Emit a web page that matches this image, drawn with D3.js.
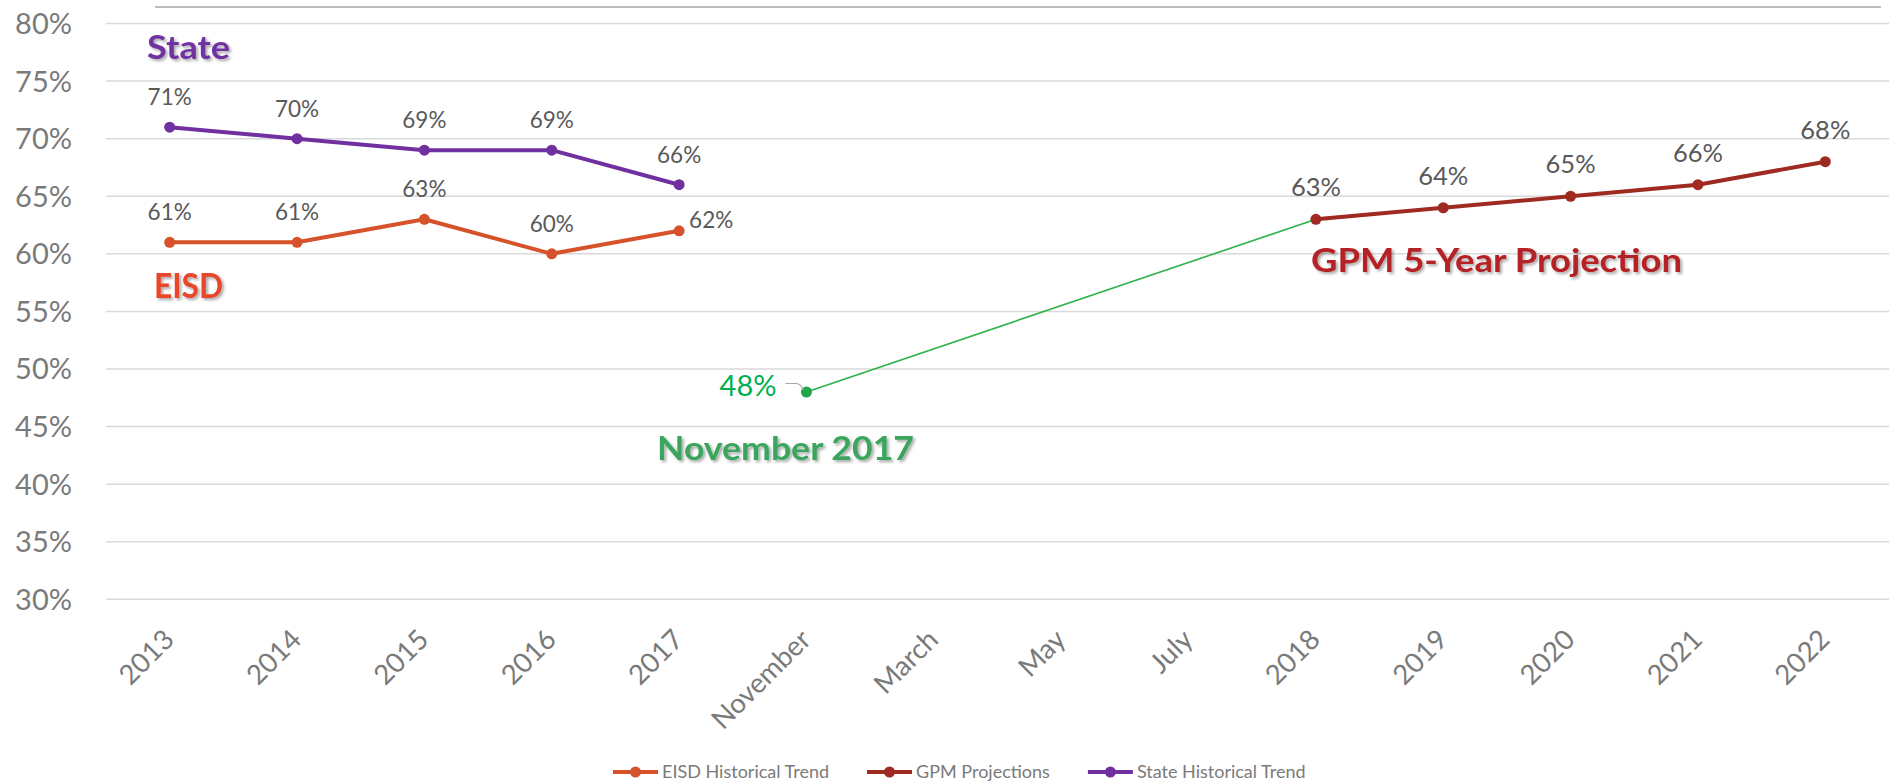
<!DOCTYPE html>
<html>
<head>
<meta charset="utf-8">
<script src="https://cdn.jsdelivr.net/npm/d3@7"></script>
<style>
  body { margin: 0; background: #fff; }
  svg { display: block; font-family: Lato, "Open Sans", sans-serif; }
</style>
</head>
<body>
<div id="wrapper"></div>
<script>
// categories along the x axis
const categories = ["2013", "2014", "2015", "2016", "2017", "November", "March", "May", "July", "2018", "2019", "2020", "2021", "2022"];
// series values (percent), null = no point
const eisd  = [61, 61, 63, 60, 62, null, null, null, null, null, null, null, null, null];
const state = [71, 70, 69, 69, 66, null, null, null, null, null, null, null, null, null];
const gpm   = [null, null, null, null, null, 48, null, null, null, 63, 64, 65, 66, 68];
const yTicks = [30, 35, 40, 45, 50, 55, 60, 65, 70, 75, 80];
const legendNames = ["EISD Historical Trend", "GPM Projections", "State Historical Trend"];

function build() {
    var dimension = {
        width: 1892,
        height: 784,
        margin: { top: 23.5, right: 3, bottom: 184.7, left: 106 }
    };
    dimension.boundedWidth = dimension.width - dimension.margin.left - dimension.margin.right;
    dimension.boundedHeight = dimension.height - dimension.margin.top - dimension.margin.bottom;

    const colors = {
        eisd: "#D5522B",
        gpm: "#9E2A22",
        state: "#7030A0",
        green: "#2DB34A",
        label: "#595959",
        axis: "#7a7a7a",
        grid: "#D9D9D9"
    };

    const wrapper = d3.select("#wrapper")
        .append("svg")
        .attr("width", dimension.width)
        .attr("height", dimension.height);

    const defs = wrapper.append("defs");
    defs.append("filter")
        .attr("id", "shadow")
        .attr("x", "-10%").attr("y", "-30%")
        .attr("width", "130%").attr("height", "180%")
        .append("feDropShadow")
        .attr("dx", 2).attr("dy", 2)
        .attr("stdDeviation", 1.6)
        .attr("flood-color", "#000")
        .attr("flood-opacity", 0.35);

    // frame line at the very top of the slide
    wrapper.append("line")
        .attr("x1", 155).attr("x2", 1881)
        .attr("y1", 7).attr("y2", 7)
        .attr("stroke", "#A6A6A6")
        .attr("stroke-width", 1.5);

    const bounds = wrapper.append("g")
        .attr("transform", `translate(${dimension.margin.left},${dimension.margin.top})`);

    const x = d3.scalePoint()
        .domain(categories)
        .range([0, dimension.boundedWidth])
        .padding(0.5);

    const y = d3.scaleLinear()
        .domain([30, 80])
        .range([dimension.boundedHeight, 0]);

    // gridlines
    bounds.append("g")
        .selectAll("line")
        .data(yTicks)
        .enter()
        .append("line")
        .attr("x1", 0)
        .attr("x2", dimension.boundedWidth)
        .attr("y1", d => y(d))
        .attr("y2", d => y(d))
        .attr("stroke", colors.grid)
        .attr("stroke-width", 1.5);

    // y tick labels
    bounds.append("g")
        .selectAll("text")
        .data(yTicks)
        .enter()
        .append("text")
        .attr("x", -34)
        .attr("y", d => y(d))
        .attr("dy", "0.36em")
        .style("text-anchor", "end")
        .style("font-size", "29px")
        .style("fill", colors.axis)
        .text(d => d + "%");

    // x tick labels, rotated
    bounds.append("g")
        .selectAll("text")
        .data(categories)
        .enter()
        .append("text")
        .attr("transform", d => `translate(${x(d) + 6},${dimension.boundedHeight + 42}) rotate(-45)`)
        .style("text-anchor", "end")
        .style("font-size", "27.5px")
        .style("fill", colors.axis)
        .text(d => d);

    const toPoints = values => categories
        .map((c, i) => ({ cat: c, value: values[i] }))
        .filter(d => d.value !== null);

    const line = d3.line()
        .x(d => x(d.cat))
        .y(d => y(d.value));

    const eisdPts = toPoints(eisd);
    const statePts = toPoints(state);
    const gpmPts = toPoints(gpm);

    // green connector: November -> first projection year
    bounds.append("path")
        .attr("d", line(gpmPts.slice(0, 2)))
        .attr("fill", "none")
        .attr("stroke", colors.green)
        .attr("stroke-width", 1.6);

    const series = [
        { pts: eisdPts, color: colors.eisd },
        { pts: statePts, color: colors.state },
        { pts: gpmPts.slice(1), color: colors.gpm }
    ];

    series.forEach(s => {
        bounds.append("path")
            .attr("d", line(s.pts))
            .attr("fill", "none")
            .attr("stroke", s.color)
            .attr("stroke-width", 4)
            .attr("stroke-linejoin", "round");
        bounds.append("g")
            .selectAll("circle")
            .data(s.pts)
            .enter()
            .append("circle")
            .attr("cx", d => x(d.cat))
            .attr("cy", d => y(d.value))
            .attr("r", 5.5)
            .attr("fill", s.color);
    });

    // November point
    bounds.append("circle")
        .attr("cx", x(gpmPts[0].cat))
        .attr("cy", y(gpmPts[0].value))
        .attr("r", 5.5)
        .attr("fill", "#1FA64A");

    // data labels
    function labelsAbove(pts, size, offset) {
        bounds.append("g")
            .selectAll("text")
            .data(pts)
            .enter()
            .append("text")
            .attr("x", d => x(d.cat))
            .attr("y", d => y(d.value) - offset)
            .style("text-anchor", "middle")
            .style("font-size", size + "px")
            .style("fill", colors.label)
            .text(d => d.value + "%");
    }
    labelsAbove(statePts, 22.5, 22);
    labelsAbove(eisdPts.slice(0, 4), 22.5, 22);
    labelsAbove(gpmPts.slice(1), 25.5, 23);

    // last EISD label sits to the right
    const lastE = eisdPts[eisdPts.length - 1];
    bounds.append("text")
        .attr("x", x(lastE.cat) + 10)
        .attr("y", y(lastE.value) - 3)
        .style("font-size", "22.5px")
        .style("fill", colors.label)
        .text(lastE.value + "%");

    // November label on the left with a small leader
    const nov = gpmPts[0];
    const nx = x(nov.cat), ny = y(nov.value);
    bounds.append("text")
        .attr("x", nx - 30)
        .attr("y", ny + 4)
        .style("text-anchor", "end")
        .style("font-size", "29px")
        .style("fill", "#00B050")
        .text(nov.value + "%");
    bounds.append("path")
        .attr("d", `M${nx - 21},${ny - 8.5} L${nx - 10},${ny - 8.5} Q${nx - 6},${ny - 8.5} ${nx - 3},${ny - 2}`)
        .attr("fill", "none")
        .attr("stroke", "#A6A6A6")
        .attr("stroke-width", 1.2);

    // big annotations
    const notes = [
        { text: "State", x: 147, y: 59, size: 33, len: 83, color: "#7030A0" },
        { text: "EISD", x: 154, y: 298, size: 34, len: 69, color: "#E8462A" },
        { text: "November 2017", x: 657, y: 460, size: 32, len: 257, color: "#3BA55D" },
        { text: "GPM 5-Year Projection", x: 1311, y: 272, size: 33, len: 371, color: "#B52025" }
    ];
    wrapper.append("g")
        .selectAll("text")
        .data(notes)
        .enter()
        .append("text")
        .attr("x", d => d.x)
        .attr("y", d => d.y)
        .attr("textLength", d => d.len)
        .attr("lengthAdjust", "spacingAndGlyphs")
        .attr("filter", "url(#shadow)")
        .style("font-size", d => d.size + "px")
        .style("font-weight", "bold")
        .style("fill", d => d.color)
        .text(d => d.text);

    // legend
    const legendColors = [colors.eisd, colors.gpm, colors.state];
    const legend = wrapper.append("g").attr("transform", "translate(613,772)");
    let lx = 0;
    legendNames.forEach((name, i) => {
        const item = legend.append("g").attr("transform", `translate(${lx},0)`);
        item.append("line")
            .attr("x1", 0).attr("x2", 45)
            .attr("y1", 0).attr("y2", 0)
            .attr("stroke", legendColors[i])
            .attr("stroke-width", 4);
        item.append("circle")
            .attr("cx", 22.5).attr("cy", 0).attr("r", 5.5)
            .attr("fill", legendColors[i]);
        const t = item.append("text")
            .attr("x", 49)
            .attr("y", 0)
            .attr("dy", "0.36em")
            .style("font-size", "18px")
            .style("fill", colors.axis)
            .text(name);
        lx += 49 + t.node().getComputedTextLength() + 38;
    });
}

build();
</script>
</body>
</html>
